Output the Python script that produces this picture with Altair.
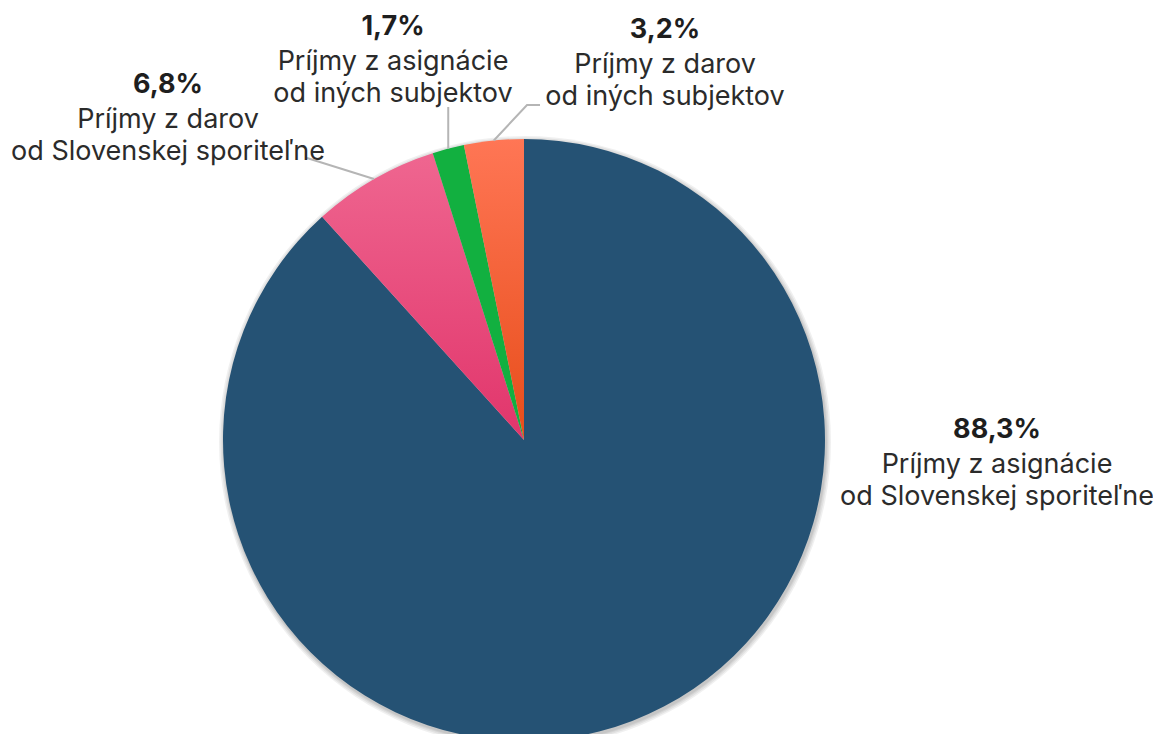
import math
import altair as alt
import pandas as pd

# ---- data ----
categories = [
    "Príjmy z asignácie od Slovenskej sporiteľne",
    "Príjmy z darov od Slovenskej sporiteľne",
    "Príjmy z asignácie od iných subjektov",
    "Príjmy z darov od iných subjektov",
]
values = [88.3, 6.8, 1.7, 3.2]
pct_labels = ["88,3%", "6,8%", "1,7%", "3,2%"]
label_lines = [
    ["Príjmy z asignácie", "od Slovenskej sporiteľne"],
    ["Príjmy z darov", "od Slovenskej sporiteľne"],
    ["Príjmy z asignácie", "od iných subjektov"],
    ["Príjmy z darov", "od iných subjektov"],
]

# ---- layout (view pixel coordinates) ----
W, H = 1145, 726
CX, CY, R = 516, 432, 301
label_pos = [(989, 422), (160, 77), (385, 19), (657, 22)]   # centre of the bold line
first_gap = 35
line_gap = 32
FONT = "Inter"
FS = 27

pie_df = pd.DataFrame({"cat": categories, "value": values, "idx": range(len(values))})

# leader lines: inner end at slice mid-angle on the rim
total = sum(values)
mids = []
acc = 0.0
for v in values:
    mids.append((acc + v / 2) / total * 2 * math.pi)
    acc += v


def rim(i, rr=R):
    a = mids[i]
    return CX + rr * math.sin(a), CY - rr * math.cos(a)


leader_rows = []
# 6,8%
x0, y0 = rim(1)
leader_rows += [{"k": 1, "o": 0, "x": x0, "y": y0}, {"k": 1, "o": 1, "x": 299, "y": 150}]
# 1,7%
x0, y0 = rim(2)
leader_rows += [{"k": 2, "o": 0, "x": x0, "y": y0}, {"k": 2, "o": 1, "x": x0, "y": 99}]
# 3,2%
x0, y0 = rim(3)
leader_rows += [{"k": 3, "o": 0, "x": x0, "y": y0}, {"k": 3, "o": 1, "x": 519, "y": 97},
                {"k": 3, "o": 2, "x": 532, "y": 97}]
leader_df = pd.DataFrame(leader_rows)

lab_df = pd.DataFrame({
    "pct": pct_labels,
    "lines": label_lines,
    "x": [p[0] for p in label_pos],
    "y": [p[1] for p in label_pos],
    "y2": [p[1] + first_gap for p in label_pos],
})

pink = {"gradient": "linear", "x1": 0, "y1": 0, "x2": 0, "y2": 1,
        "stops": [{"offset": 0, "color": "#ef6690"}, {"offset": 1, "color": "#e1356b"}]}
orange = {"gradient": "linear", "x1": 0, "y1": 0, "x2": 0, "y2": 1,
          "stops": [{"offset": 0, "color": "#ff7655"}, {"offset": 1, "color": "#e74d1a"}]}

fill = alt.ColorValue(
    value="#255274",
    condition=[
        {"test": "datum.idx == 1", "value": pink},
        {"test": "datum.idx == 2", "value": "#12b040"},
        {"test": "datum.idx == 3", "value": orange},
    ],
)

shadow_df = pd.DataFrame({"v": [1]})
shadows = [
    alt.Chart(shadow_df).mark_arc(outerRadius=R + d, theta=0, theta2=2 * math.pi,
                                  color="#000", opacity=0.06).encode(
        x=alt.value(CX + 1), y=alt.value(CY + 2))
    for d in (5, 3.5, 2, 1)
]

pie = alt.Chart(pie_df).mark_arc(outerRadius=R).encode(
    theta=alt.Theta("value:Q", stack=True),
    order=alt.Order("idx:Q"),
    fill=fill,
    x=alt.value(CX),
    y=alt.value(CY),
)

leaders = alt.Chart(leader_df).mark_line(color="#b5b5b5", strokeWidth=2).encode(
    x=alt.X("x:Q", scale=None, axis=None),
    y=alt.Y("y:Q", scale=None, axis=None),
    detail="k:N",
    order="o:Q",
)

pct_text = alt.Chart(lab_df).mark_text(font=FONT, fontSize=FS, fontWeight="bold",
                                       color="#1e1e1e", baseline="middle", align="center").encode(
    x=alt.X("x:Q", scale=None, axis=None),
    y=alt.Y("y:Q", scale=None, axis=None),
    text="pct:N",
)

line_text = alt.Chart(lab_df).mark_text(font=FONT, fontSize=FS, color="#2b2b2b",
                                        baseline="middle", align="center", lineHeight=line_gap).encode(
    x=alt.X("x:Q", scale=None, axis=None),
    y=alt.Y("y2:Q", scale=None, axis=None),
    text="lines",
)

chart = alt.layer(*shadows, pie, leaders, pct_text, line_text).properties(
    width=W, height=H, padding=0, autosize=alt.AutoSizeParams(type="none"),
    background="white",
).configure_view(stroke=None)

chart.save("out.html", embed_options={"renderer": "svg", "actions": False})
